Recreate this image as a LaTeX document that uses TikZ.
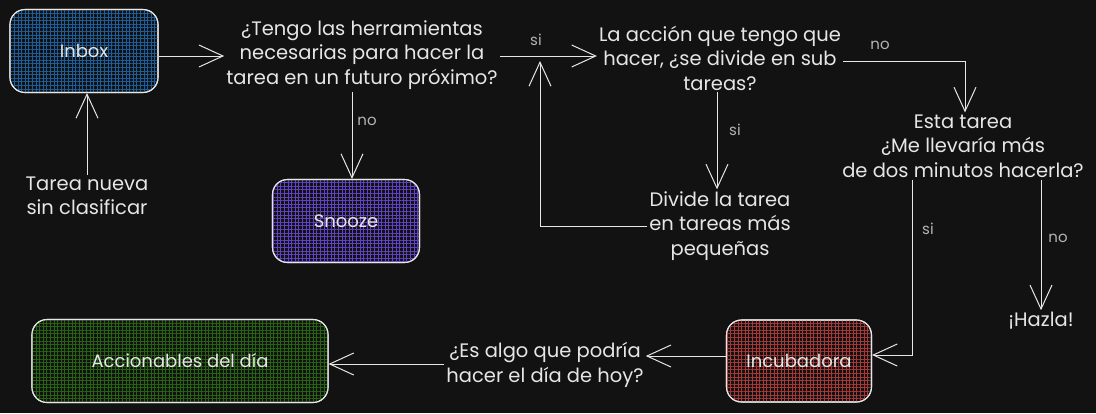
\documentclass[tikz,border=0pt]{standalone}
\usepackage{fontspec}
\setmainfont{Poppins}
\usetikzlibrary{arrows.meta,patterns.meta}
\definecolor{bg}{HTML}{121212}
\definecolor{fg}{HTML}{E6E6E6}
\definecolor{lbl}{HTML}{B4B4B4}
\definecolor{cblue}{HTML}{1A5E9E}
\definecolor{cpurple}{HTML}{6042C4}
\definecolor{cred}{HTML}{A83838}
\definecolor{cgreen}{HTML}{27640F}
\tikzset{
  box/.style={draw=fg, line width=1.1pt, rounded corners=15pt, fill=bg,
    text=fg, font=\fontsize{18}{20}\selectfont, inner sep=0pt},
  hatch/.style={postaction={pattern={Lines[angle=0,distance=3.6pt,line width=0.85pt]}, pattern color=#1},
                postaction={pattern={Lines[angle=90,distance=3.6pt,line width=0.85pt]}, pattern color=#1},
                postaction={draw=fg, line width=1.1pt, rounded corners=15pt}},
  txt/.style={text=fg, align=center, font=\fontsize{19.5}{24.5}\selectfont, inner sep=2pt},
  lab/.style={text=lbl, font=\fontsize{15}{17}\selectfont, inner sep=0pt},
  conn/.style={draw=fg, line width=1pt, -{Straight Barb[length=24pt,width=22pt,line width=1pt]}},
}
\begin{document}
\begin{tikzpicture}[x=1pt,y=-1pt]
\useasboundingbox[fill=bg] (0,0) rectangle (1096,413);
% boxes
\node[box, hatch=cblue, minimum width=148pt, minimum height=83pt] (inbox) at (84,51) {Inbox};
\node[box, hatch=cpurple, minimum width=147pt, minimum height=83pt] (snooze) at (346,221) {Snooze};
\node[box, hatch=cred, minimum width=145pt, minimum height=82pt] (inc) at (799,361) {Incubadora};
\node[box, hatch=cgreen, minimum width=296pt, minimum height=83pt] (acc) at (180,361) {Accionables del día};
% texts
\node[txt] (q1) at (362,55) {¿Tengo las herramientas\\necesarias para hacer la\\tarea en un futuro próximo?};
\node[txt] (q2) at (720,58) {La acción que tengo que\\hacer, ¿se divide en sub\\tareas?};
\node[txt] (div) at (720,226) {Divide la tarea\\en tareas más\\pequeñas};
\node[txt] (q3) at (963,146) {Esta tarea\\¿Me llevaría más\\de dos minutos hacerla?};
\node[txt] (hazla) at (1041,321) {¡Hazla!};
\node[txt] (q4) at (545,365) {¿Es algo que podría\\hacer el día de hoy?};
\node[txt] (tarea) at (87,196) {Tarea nueva\\sin clasificar};
\coordinate (ret) at (540,61);
% connectors
\draw[conn] (inbox.east |- 0,56) -- (q1.west |- 0,56);
\draw[conn] (tarea.north) -- (tarea.north |- inbox.south);
\draw[conn] ([xshift=6pt]snooze.north |- q1.south) -- ([xshift=6pt]snooze.north);
\draw[conn] (q1.east |- 0,56) -- (q2.west |- 0,56);
\draw[conn] (div.west) -| (ret);
\draw[conn] ([xshift=-3pt]div.north |- q2.south) -- ([xshift=-3pt]div.north);
\draw[conn] (q2.east |- 0,61) -| ([xshift=2pt]q3.north);
\draw[conn] (q3.south -| hazla.north) -- (hazla.north);
\draw[conn] ([xshift=-51pt]q3.south) |- ([yshift=6pt]inc.east);
\draw[conn] ([yshift=5pt]inc.west) -- (q4.east |- 0,356);
\draw[conn] (q4.west |- 0,364) -- (acc.east |- 0,364);
% labels
\node[lab] (l1) at (536,40) {si};
\node[lab] (l2) at (367,121) {no};
\node[lab] (l3) at (735,130) {si};
\node[lab] (l4) at (880,45) {no};
\node[lab] (l5) at (928,229) {si};
\node[lab] (l6) at (1058,238) {no};
\end{tikzpicture}
\end{document}
